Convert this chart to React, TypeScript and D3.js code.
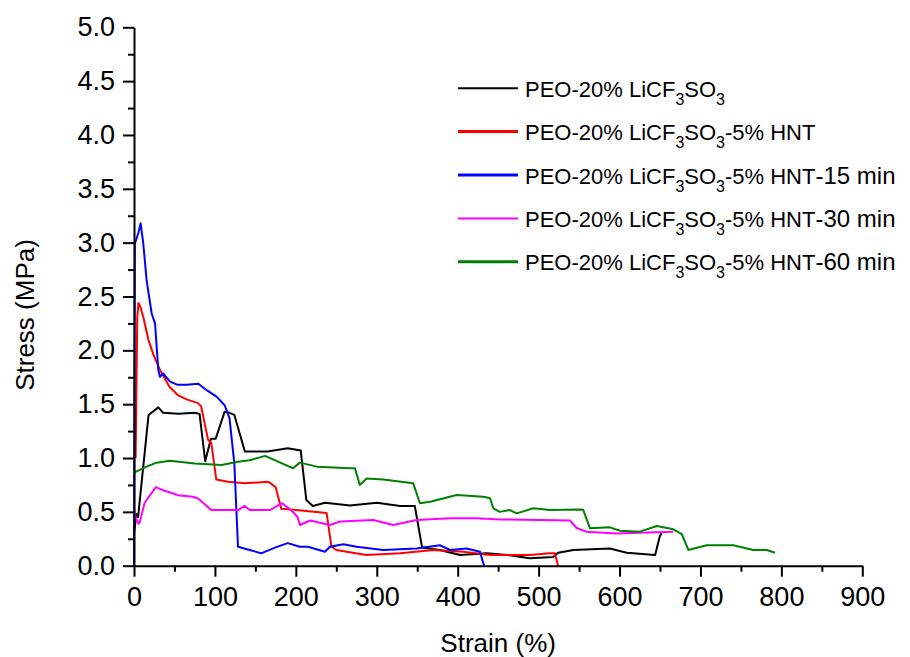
import React, { useEffect, useRef } from 'react';
import * as d3 from 'd3';

type Pt = [number, number];

// strain (%), stress (MPa)
const pristine: Pt[] = [
  [0, 0.3], [3, 0.48], [5, 0.45], [18, 1.4], [30, 1.47], [36, 1.42], [55, 1.41], [75, 1.42], [81, 1.41],
  [88, 0.97], [95, 1.18], [101, 1.18], [112, 1.43], [118, 1.42], [124, 1.4], [137, 1.06], [165, 1.06],
  [190, 1.09], [206, 1.07], [213, 0.61], [221, 0.555], [236, 0.585], [267, 0.56], [300, 0.585],
  [329, 0.555], [347, 0.555], [356, 0.17], [378, 0.146], [403, 0.1], [436, 0.115], [461, 0.1],
  [489, 0.07], [518, 0.08], [524, 0.12], [543, 0.146], [588, 0.16], [609, 0.12], [644, 0.1],
  [650, 0.28], [652, 0.3],
];

const hnt: Pt[] = [
  [2, 1.0], [4, 2.3], [5.5, 2.44], [8, 2.4], [11.5, 2.31], [17.7, 2.1], [24, 1.96], [32, 1.82],
  [44, 1.66], [54, 1.585], [65, 1.545], [79, 1.51], [83, 1.48], [91.5, 1.17], [95.5, 1.14],
  [101.7, 0.8], [116, 0.78], [137, 0.765], [166, 0.78], [175, 0.73], [182, 0.53], [197, 0.52],
  [238, 0.49], [244, 0.176], [250, 0.146], [287, 0.1], [329, 0.115], [370, 0.146], [407, 0.13],
  [440, 0.1], [489, 0.1], [514, 0.115], [520, 0.115], [524, 0],
];

const hnt15: Pt[] = [
  [0, 0], [1, 2.99], [5.4, 3.09], [8.2, 3.18], [11.5, 2.99], [15.6, 2.65], [21.9, 2.34], [26, 2.25],
  [30, 1.82], [32, 1.755], [36, 1.785], [44.5, 1.71], [54, 1.68], [65, 1.68], [79.5, 1.69],
  [89.8, 1.63], [102, 1.57], [112, 1.49], [118, 1.37], [124, 0.95], [128.5, 0.176], [143, 0.146],
  [157, 0.115], [175, 0.17], [190, 0.21], [205, 0.176], [215, 0.176], [236, 0.13], [242, 0.176],
  [258.6, 0.2], [275, 0.176], [308, 0.146], [349, 0.16], [378, 0.19], [390.5, 0.146], [411, 0.16],
  [427.6, 0.13], [431.7, 0.02], [433, 0],
];

const hnt30: Pt[] = [
  [0, 0.52], [2, 0.45], [5.4, 0.39], [7, 0.4], [13, 0.58], [15.6, 0.61], [27, 0.73], [36, 0.7],
  [48.6, 0.67], [54, 0.655], [73, 0.64], [80, 0.62], [95.5, 0.517], [128.5, 0.517], [136.8, 0.555],
  [143, 0.517], [168, 0.517], [183, 0.58], [194, 0.517], [202, 0.455], [205, 0.378], [217.5, 0.42],
  [242, 0.378], [254.6, 0.41], [295.7, 0.425], [320.4, 0.378], [349, 0.425], [390.5, 0.44],
  [423.5, 0.44], [452, 0.43], [501.7, 0.425], [538.8, 0.42], [547, 0.35], [559, 0.316],
  [596.5, 0.3], [625, 0.306], [666.4, 0.316],
];

const hnt60: Pt[] = [
  [0, 0.864], [15.6, 0.92], [28, 0.957], [44.5, 0.975], [75, 0.95], [108, 0.935], [128.5, 0.966],
  [143, 0.98], [162, 1.02], [178, 0.966], [196.5, 0.905], [205, 0.957], [226, 0.92], [267, 0.905],
  [273, 0.905], [279, 0.75], [287.5, 0.81], [308, 0.8], [345, 0.765], [353.4, 0.58], [366, 0.594],
  [398.8, 0.656], [431.7, 0.64], [440, 0.626], [444, 0.533], [452, 0.5], [464.6, 0.517],
  [473, 0.486], [493.5, 0.533], [514, 0.517], [551, 0.523], [555, 0.52], [563.5, 0.347],
  [588, 0.356], [600.6, 0.325], [625, 0.316], [646, 0.369], [666.5, 0.338], [677, 0.294],
  [685, 0.146], [707.6, 0.19], [740.6, 0.19], [765.4, 0.146], [782, 0.146], [792, 0.12],
];

const seriesData = [pristine, hnt, hnt15, hnt30, hnt60];
const seriesColors = ['#000000', '#ff0000', '#0000ff', '#ff00ff', '#008000'];
const legendWidths = [2, 3, 3, 2, 3];
const legendSuffix = ['', '-5% HNT', '-5% HNT', '-5% HNT', '-5% HNT'];
const legendTime = ['', '', '-15 min', '-30 min', '-60 min'];

const xMajor = d3.range(0, 901, 100);
const xMinor = d3.range(50, 900, 100);
const yMajor = d3.range(0, 5.01, 0.5);
const yMinor = d3.range(0.25, 5, 0.5);

export default function App() {
  const svgRef = useRef<SVGSVGElement>(null);
  const width = 910;
  const height = 657;

  useEffect(() => {
    if (!svgRef.current) return;
    const svg = d3.select(svgRef.current);
    svg.selectAll('*').remove();

    const font = 'Liberation Sans, Arial, sans-serif';
    const x = d3.scaleLinear().domain([0, 900]).range([134, 862.3]);
    const y = d3.scaleLinear().domain([0, 5]).range([565.7, 27.3]);

    // curves
    const line = d3.line<Pt>().x(d => x(d[0])).y(d => y(d[1]));
    seriesData.forEach((s, i) => {
      svg.append('path')
        .attr('d', line(s))
        .attr('fill', 'none')
        .attr('stroke', seriesColors[i])
        .attr('stroke-width', 2)
        .attr('stroke-linejoin', 'round');
    });

    // minor ticks
    svg.append('g')
      .attr('transform', `translate(0,${y(0)})`)
      .call(d3.axisBottom(x).tickValues(xMinor).tickSize(6).tickSizeOuter(0).tickFormat(() => ''))
      .call(g => g.select('.domain').remove())
      .call(g => g.selectAll('line').attr('stroke-width', 2));
    svg.append('g')
      .attr('transform', `translate(${x(0)},0)`)
      .call(d3.axisLeft(y).tickValues(yMinor).tickSize(6).tickSizeOuter(0).tickFormat(() => ''))
      .call(g => g.select('.domain').remove())
      .call(g => g.selectAll('line').attr('stroke-width', 2));

    // major axes
    const xAxis = svg.append('g')
      .attr('transform', `translate(0,${y(0)})`)
      .call(d3.axisBottom(x).tickValues(xMajor).tickSize(11).tickSizeOuter(0).tickPadding(10).tickFormat(d3.format('d')));
    const yAxis = svg.append('g')
      .attr('transform', `translate(${x(0)},0)`)
      .call(d3.axisLeft(y).tickValues(yMajor).tickSize(11).tickSizeOuter(0).tickPadding(8).tickFormat(d3.format('.1f')));
    [xAxis, yAxis].forEach(a => {
      a.select('.domain').attr('stroke-width', 2);
      a.selectAll('line').attr('stroke-width', 2);
      a.selectAll('text').attr('font-size', 27).attr('font-family', font).attr('fill', '#000');
    });

    // axis titles
    svg.append('text')
      .attr('x', x(450))
      .attr('y', 652)
      .attr('text-anchor', 'middle')
      .attr('font-size', 26)
      .attr('font-family', font)
      .text('Strain (%)');
    svg.append('text')
      .attr('transform', 'translate(34,315) rotate(-90)')
      .attr('text-anchor', 'middle')
      .attr('font-size', 26)
      .attr('font-family', font)
      .text('Stress (MPa)');

    // legend
    const legend = svg.append('g').attr('font-family', font).attr('fill', '#000');
    seriesColors.forEach((c, i) => {
      const by = 96.7 + i * 43.4;
      legend.append('line')
        .attr('x1', 458).attr('x2', 518)
        .attr('y1', by - 8.5).attr('y2', by - 8.5)
        .attr('stroke', c)
        .attr('stroke-width', legendWidths[i]);
      const t = legend.append('text').attr('x', 525).attr('y', by).attr('font-size', 22);
      t.append('tspan').text('PEO-20% LiCF');
      t.append('tspan').attr('font-size', 16).attr('dy', 8).text('3');
      t.append('tspan').attr('dy', -8).text('SO');
      t.append('tspan').attr('font-size', 16).attr('dy', 8).text('3');
      if (legendSuffix[i]) t.append('tspan').attr('dy', -8).text(legendSuffix[i]);
      if (legendTime[i]) t.append('tspan').attr('font-size', 24).text(legendTime[i]);
    });
  }, []);

  return (
    <svg
      ref={svgRef}
      width={width}
      height={height}
      style={{ position: 'absolute', left: 0, top: 0, background: '#fff' }}
    />
  );
}
